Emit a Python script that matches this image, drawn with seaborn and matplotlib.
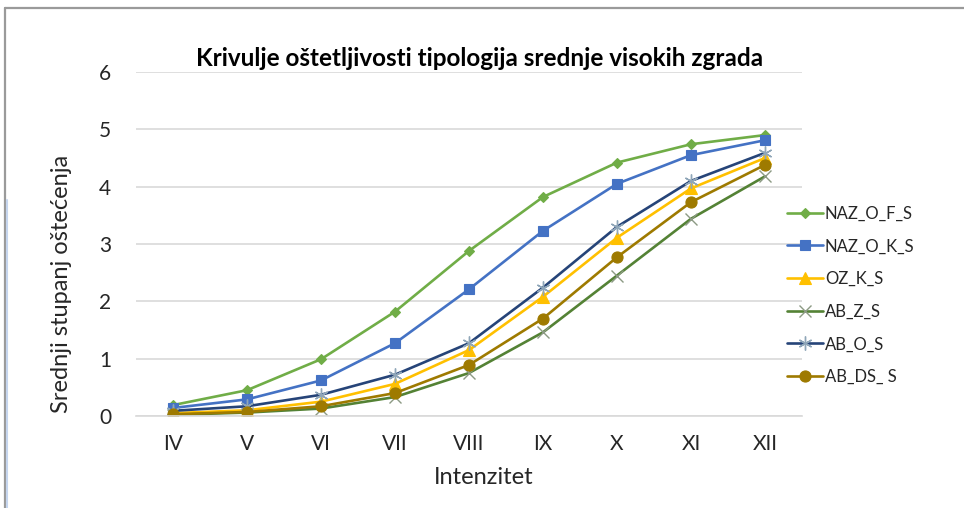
import matplotlib
matplotlib.use("Agg")
import matplotlib.pyplot as plt
from matplotlib.lines import Line2D
import seaborn as sns
import pandas as pd

# Intensity classes (EMS scale) on the x axis
categories = ["IV", "V", "VI", "VII", "VIII", "IX", "X", "XI", "XII"]

# Mean damage grade per building typology
naz_o_f_s = [0.19, 0.45, 0.99, 1.82, 2.88, 3.82, 4.42, 4.74, 4.90]
naz_o_k_s = [0.14, 0.29, 0.62, 1.27, 2.21, 3.23, 4.05, 4.55, 4.81]
oz_k_s = [0.05, 0.10, 0.25, 0.56, 1.15, 2.08, 3.11, 3.97, 4.50]
ab_z_s = [0.02, 0.06, 0.13, 0.33, 0.75, 1.46, 2.45, 3.44, 4.18]
ab_o_s = [0.09, 0.17, 0.37, 0.72, 1.27, 2.24, 3.30, 4.10, 4.59]
ab_ds_s = [0.03, 0.07, 0.17, 0.40, 0.89, 1.70, 2.77, 3.73, 4.38]

series_names = ["NAZ_O_F_S", "NAZ_O_K_S", "OZ_K_S", "AB_Z_S", "AB_O_S", "AB_DS_ S"]
series_values = [naz_o_f_s, naz_o_k_s, oz_k_s, ab_z_s, ab_o_s, ab_ds_s]
y_ticks = [0, 1, 2, 3, 4, 5, 6]

title = "Krivulje oštetljivosti tipologija srednje visokih zgrada"
x_label = "Intenzitet"
y_label = "Srednji stupanj oštećenja"

colors = ["#70AD47", "#4472C4", "#FFC000", "#548235", "#264478", "#9E7A00"]
markers = ["D", "s", "^", "x", (6, 2, 0), "o"]
marker_sizes = [5, 7.5, 8, 9, 10, 8]

sns.set_theme(style="white")
plt.rcParams["font.family"] = ["Lato", "DejaVu Sans"]

fig = plt.figure(figsize=(9.64, 5.08), dpi=100)
ax = fig.add_axes([136 / 964, 1 - 416 / 508, 666 / 964, 344 / 508])

frames = []
for name, vals in zip(series_names, series_values):
    frames.append(pd.DataFrame({"Intenzitet": categories, "value": vals, "series": name}))
df = pd.concat(frames, ignore_index=True)

for name, col, mk, ms in zip(series_names, colors, markers, marker_sizes):
    sub = df[df["series"] == name]
    thin = mk in ("x",) or isinstance(mk, tuple)
    sns.lineplot(
        data=sub, x="Intenzitet", y="value", ax=ax, color=col, sort=False,
        linewidth=1.9, marker=mk, markersize=ms,
        markeredgecolor=col if not thin else "#8FA6B8" if name == "AB_O_S" else "#8C9A84",
        markeredgewidth=1.0 if thin else 0.8,
        markerfacecolor=col, label=name,
    )

ax.set_xlim(-0.5, len(categories) - 0.5)
ax.set_ylim(0, 6)
ax.set_yticks(y_ticks)
ax.set_yticklabels([str(t) for t in y_ticks])
ax.grid(axis="y", color="#D9D9D9", linewidth=1.2)
ax.set_axisbelow(True)
for side in ["top", "right", "left"]:
    ax.spines[side].set_visible(False)
ax.spines["bottom"].set_color("#D9D9D9")
ax.spines["bottom"].set_linewidth(1.2)
ax.tick_params(axis="both", length=0, labelsize=15, colors="#262626")
ax.tick_params(axis="x", pad=13)
ax.tick_params(axis="y", pad=18)
ax.set_xlabel("")
ax.set_ylabel("")

fig.text(484 / 964, 1 - 478 / 508, x_label, ha="center", va="center", fontsize=17, color="#262626")
fig.text(62 / 964, 1 - 284 / 508, y_label, ha="center", va="center", rotation=90, fontsize=17, color="#262626")
fig.text(480 / 964, 1 - 58 / 508, title, ha="center", va="center", fontsize=17.5, fontweight="bold", color="#000000")

leg = ax.legend(
    loc="upper left", bbox_to_anchor=(780 / 964, 1 - 199 / 508), bbox_transform=fig.transFigure,
    frameon=False, fontsize=12, handlelength=2.2, handletextpad=0.1, labelspacing=1.0,
    borderaxespad=0, labelcolor="#262626",
)

# outer frame of the chart area
fig.add_artist(Line2D([5 / 964, 1], [1 - 8 / 508, 1 - 8 / 508], transform=fig.transFigure, color="#9A9A9A", linewidth=1.6))
fig.add_artist(Line2D([5 / 964, 5 / 964], [0, 1 - 8 / 508], transform=fig.transFigure, color="#9A9A9A", linewidth=1.6))
fig.add_artist(Line2D([7 / 964, 7 / 964], [0, 1 - 200 / 508], transform=fig.transFigure, color="#C5D5EE", linewidth=1.5))

fig.savefig("out.png", dpi=100)
